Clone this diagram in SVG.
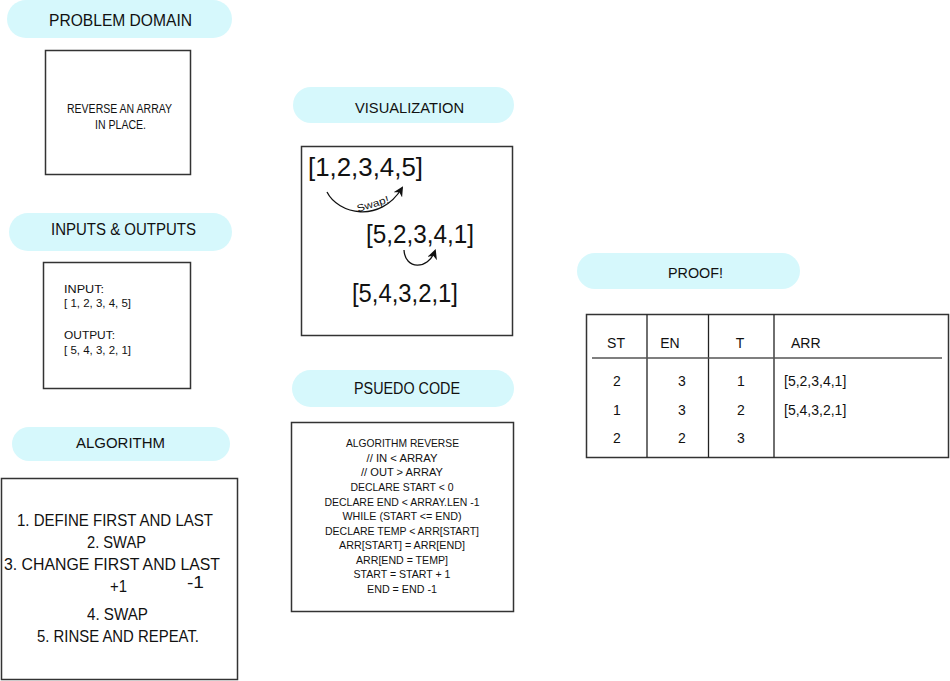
<svg xmlns="http://www.w3.org/2000/svg" width="950" height="681" viewBox="0 0 950 681">
<style>
.pill{fill:#d6f8fc;stroke:none}
.box{fill:#fff;stroke:#333;stroke-width:1.5}
text{font-family:"Liberation Sans",Arial,sans-serif;fill:#111}
.c{text-anchor:middle}
.conn{fill:none;stroke:#111;stroke-width:1.3}
</style>
<defs>
<marker id="ah" viewBox="0 0 10 10" refX="8" refY="5" markerWidth="7" markerHeight="7" markerUnits="userSpaceOnUse" orient="auto">
<path d="M0,0 L10,5 L0,10 Z" fill="#111"/>
</marker>
<marker id="ah2" viewBox="0 0 10 10" refX="8" refY="5" markerWidth="10" markerHeight="10" markerUnits="userSpaceOnUse" orient="auto">
<path d="M0,0 L10,5 L0,10 L3,5 Z" fill="#111"/>
</marker>
</defs>
<rect width="950" height="681" fill="#fff"/>

<g id="problem-domain">
<rect class="pill" x="7" y="0" width="225" height="38" rx="19"/>
<text class="c" x="120.5" y="25.5" font-size="17" textLength="143" lengthAdjust="spacingAndGlyphs">PROBLEM DOMAIN</text>
<rect class="box" x="45.5" y="50.5" width="145" height="124"/>
<text class="c" x="119.5" y="113" font-size="12" textLength="105" lengthAdjust="spacingAndGlyphs">REVERSE AN ARRAY</text>
<text class="c" x="120.5" y="129" font-size="12" textLength="51" lengthAdjust="spacingAndGlyphs">IN PLACE.</text>
</g>

<g id="inputs-outputs">
<rect class="pill" x="9" y="213" width="223" height="38" rx="19"/>
<text class="c" x="123.5" y="235" font-size="17" textLength="145" lengthAdjust="spacingAndGlyphs">INPUTS &amp; OUTPUTS</text>
<rect class="box" x="43.5" y="262.5" width="147" height="126"/>
<text x="64" y="292.5" font-size="11" textLength="40" lengthAdjust="spacingAndGlyphs">INPUT:</text>
<text x="64" y="306.5" font-size="11" textLength="67" lengthAdjust="spacingAndGlyphs">[ 1, 2, 3, 4, 5]</text>
<text x="64" y="339" font-size="11" textLength="51" lengthAdjust="spacingAndGlyphs">OUTPUT:</text>
<text x="64" y="354" font-size="11" textLength="67" lengthAdjust="spacingAndGlyphs">[ 5, 4, 3, 2, 1]</text>
</g>

<g id="algorithm">
<rect class="pill" x="12" y="427" width="218" height="34" rx="17"/>
<text class="c" x="120.5" y="448" font-size="14.5" textLength="89" lengthAdjust="spacingAndGlyphs">ALGORITHM</text>
<rect class="box" x="1.5" y="478.5" width="236" height="201"/>
<text class="c" x="115" y="526" font-size="16.5" textLength="196" lengthAdjust="spacingAndGlyphs">1. DEFINE FIRST AND LAST</text>
<text class="c" x="116.5" y="548" font-size="16.5" textLength="59" lengthAdjust="spacingAndGlyphs">2. SWAP</text>
<text class="c" x="112" y="570" font-size="16.5" textLength="216" lengthAdjust="spacingAndGlyphs">3. CHANGE FIRST AND LAST</text>
<text x="110" y="592" font-size="16.5" textLength="17" lengthAdjust="spacingAndGlyphs">+1</text>
<text x="187" y="588" font-size="16.5" textLength="17" lengthAdjust="spacingAndGlyphs">-1</text>
<text class="c" x="117.5" y="620" font-size="16.5" textLength="61" lengthAdjust="spacingAndGlyphs">4. SWAP</text>
<text class="c" x="118" y="642" font-size="16.5" textLength="162" lengthAdjust="spacingAndGlyphs">5. RINSE AND REPEAT.</text>
</g>

<g id="visualization">
<rect class="pill" x="293" y="87" width="221" height="36" rx="18"/>
<text class="c" x="409.5" y="113" font-size="15.5" textLength="109" lengthAdjust="spacingAndGlyphs">VISUALIZATION</text>
<rect class="box" x="301.5" y="146.5" width="211" height="189"/>
<text x="308" y="176" font-size="25" textLength="115" lengthAdjust="spacingAndGlyphs">[1,2,3,4,5]</text>
<text x="366" y="243" font-size="25" textLength="108" lengthAdjust="spacingAndGlyphs">[5,2,3,4,1]</text>
<text x="352" y="302" font-size="25" textLength="106" lengthAdjust="spacingAndGlyphs">[5,4,3,2,1]</text>
<text x="358" y="212" font-size="10" transform="rotate(-17 358 212)" textLength="33" lengthAdjust="spacingAndGlyphs">Swap!</text>
</g>

<g id="pseudo-code">
<rect class="pill" x="292" y="370" width="222" height="37" rx="18.5"/>
<text class="c" x="407" y="394" font-size="16" textLength="106" lengthAdjust="spacingAndGlyphs">PSUEDO CODE</text>
<rect class="box" x="291.5" y="422.5" width="222" height="189"/>
<g font-size="11">
<text class="c" x="402.5" y="447" textLength="113" lengthAdjust="spacingAndGlyphs">ALGORITHM REVERSE</text>
<text class="c" x="402" y="461.5" textLength="71" lengthAdjust="spacingAndGlyphs">// IN &lt; ARRAY</text>
<text class="c" x="402" y="476" textLength="82" lengthAdjust="spacingAndGlyphs">// OUT &gt; ARRAY</text>
<text class="c" x="402" y="490.5" textLength="103" lengthAdjust="spacingAndGlyphs">DECLARE START &lt; 0</text>
<text class="c" x="402" y="505.5" textLength="155" lengthAdjust="spacingAndGlyphs">DECLARE END &lt; ARRAY.LEN -1</text>
<text class="c" x="402" y="520" textLength="119" lengthAdjust="spacingAndGlyphs">WHILE (START &lt;= END)</text>
<text class="c" x="402" y="534.5" textLength="154" lengthAdjust="spacingAndGlyphs">DECLARE TEMP &lt; ARR[START]</text>
<text class="c" x="402" y="549" textLength="126" lengthAdjust="spacingAndGlyphs">ARR[START] = ARR[END]</text>
<text class="c" x="402" y="563.5" textLength="92" lengthAdjust="spacingAndGlyphs">ARR[END = TEMP]</text>
<text class="c" x="402" y="578" textLength="97" lengthAdjust="spacingAndGlyphs">START = START + 1</text>
<text class="c" x="402" y="592.5" textLength="70" lengthAdjust="spacingAndGlyphs">END = END -1</text>
</g>
</g>

<g id="proof">
<rect class="pill" x="577" y="253" width="223" height="36" rx="18"/>
<text class="c" x="695.5" y="278" font-size="14.5" textLength="55" lengthAdjust="spacingAndGlyphs">PROOF!</text>
<rect class="box" x="586.5" y="314.5" width="362" height="143"/>
<line x1="647" y1="314.5" x2="647" y2="457.5" stroke="#222" stroke-width="1.3"/>
<line x1="708.5" y1="314.5" x2="708.5" y2="457.5" stroke="#222" stroke-width="1.3"/>
<line x1="774" y1="314.5" x2="774" y2="457.5" stroke="#222" stroke-width="1.3"/>
<line x1="592" y1="358" x2="942" y2="358" stroke="#555" stroke-width="1.5"/>
<g font-size="14">
<text class="c" x="616" y="348">ST</text>
<text class="c" x="670" y="348">EN</text>
<text class="c" x="740" y="348">T</text>
<text x="791" y="348">ARR</text>
<text class="c" x="617" y="386">2</text>
<text class="c" x="682" y="386">3</text>
<text class="c" x="741" y="386">1</text>
<text x="784" y="386">[5,2,3,4,1]</text>
<text class="c" x="617" y="415">1</text>
<text class="c" x="682" y="415">3</text>
<text class="c" x="741" y="415">2</text>
<text x="784" y="415">[5,4,3,2,1]</text>
<text class="c" x="617" y="443">2</text>
<text class="c" x="682" y="443">2</text>
<text class="c" x="741" y="443">3</text>
</g>
</g>

<g id="connectors">
<path class="conn" d="M327,192 C338,214 380,224 402,188" marker-end="url(#ah2)"/>
<path class="conn" d="M404,250 C405,270 428,270 435,251" marker-end="url(#ah2)"/>
</g>
</svg>
